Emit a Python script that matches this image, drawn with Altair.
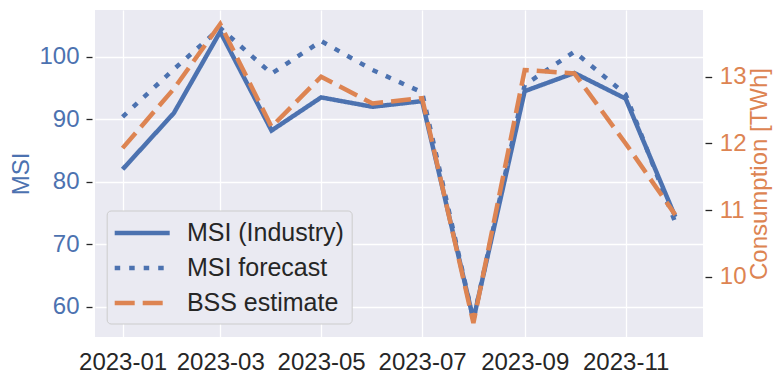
import altair as alt
import pandas as pd

months = ["2023-01-01", "2023-02-01", "2023-03-01", "2023-04-01", "2023-05-01", "2023-06-01",
          "2023-07-01", "2023-08-01", "2023-09-01", "2023-10-01", "2023-11-01", "2023-12-01"]
msi_industry = [82.0, 91.0, 104.0, 88.2, 93.5, 92.0, 92.9, 58.0, 94.5, 97.4, 93.3, 74.4]
msi_forecast = [90.4, 98.0, 104.6, 97.3, 102.5, 97.9, 94.3, 58.0, 95.5, 100.8, 94.0, 73.5]
bss_estimate = [11.93, 12.82, 13.79, 12.25, 13.0, 12.6, 12.68, 9.31, 13.1, 13.05, 12.0, 10.93]

series_names = ["MSI (Industry)", "MSI forecast", "BSS estimate"]
tick_months = ["2023-01-01", "2023-03-01", "2023-05-01", "2023-07-01", "2023-09-01", "2023-11-01"]

BLUE = "#4C72B0"
ORANGE = "#DD8452"
DARK = "#262626"
FONT = "Liberation Sans"

rows = []
for name, vals in zip(series_names, [msi_industry, msi_forecast, bss_estimate]):
    for d, v in zip(months, vals):
        rows.append({"date": d, "series": name, "value": v})
df = pd.DataFrame(rows)


def ms(s):
    return int(pd.Timestamp(s, tz="UTC").timestamp() * 1000)


x_domain = [ms("2022-12-15T08:00"), ms("2023-12-17T18:00")]
x_values = [ms(m) for m in tick_months]

x_enc = alt.X(
    "date:T",
    scale=alt.Scale(type="utc", domain=x_domain),
    axis=alt.Axis(values=x_values, labelExpr="utcFormat(datum.value, '%Y-%m')", title=None,
                  labelFontSize=24, labelColor=DARK, ticks=False, domain=False,
                  grid=True, gridColor="white", gridWidth=1.3, labelPadding=13,
                  labelFlush=False, labelOverlap=False),
)

legend = alt.Legend(
    title=None, orient="none", legendX=11.7, legendY=200.5, direction="vertical",
    symbolType="M-1.16,0H3.24", symbolSize=625, symbolStrokeWidth=4.5,
    labelFontSize=25, labelFont=FONT, labelColor=DARK, labelOffset=42.7,
    fillColor="#EAEAF2", strokeColor="#CCCCCC", cornerRadius=4, padding=7.5, rowPadding=7,
    labelLimit=400,
)
color_enc = alt.Color("series:N", scale=alt.Scale(domain=series_names, range=[BLUE, BLUE, ORANGE]),
                      legend=legend, sort=series_names)
dash_enc = alt.StrokeDash("series:N", scale=alt.Scale(domain=series_names, range=[[1, 0], [5.5, 9], [20, 8]]),
                          legend=legend, sort=series_names)

left = alt.Chart(df).transform_filter(
    alt.FieldOneOfPredicate(field="series", oneOf=["MSI (Industry)", "MSI forecast"])
).mark_line(strokeWidth=4.5, strokeCap="butt", clip=True).encode(
    x=x_enc,
    y=alt.Y("value:Q", scale=alt.Scale(domain=[55.2, 107.47], zero=False, nice=False),
            axis=alt.Axis(orient="left", values=[60, 70, 80, 90, 100], title="MSI",
                          titleColor=BLUE, titleFontSize=24, titleFontWeight="normal", titlePadding=5,
                          labelColor=BLUE, labelFontSize=24, labelPadding=7, offset=3,
                          tickSize=6, tickColor=DARK, tickWidth=1.3, domain=False,
                          grid=True, gridColor="white", gridWidth=1.3)),
    color=color_enc,
    strokeDash=dash_enc,
    detail="series:N",
)

right = alt.Chart(df).transform_filter(
    alt.FieldEqualPredicate(field="series", equal="BSS estimate")
).mark_line(strokeWidth=4.5, strokeCap="butt", clip=True).encode(
    x=x_enc,
    y=alt.Y("value:Q", scale=alt.Scale(domain=[9.1, 14.0], zero=False, nice=False),
            axis=alt.Axis(orient="right", values=[10, 11, 12, 13], title="Consumption [TWh]",
                          titleColor=ORANGE, titleFontSize=24, titleFontWeight="normal",
                          titleAngle=270, titleBaseline="top", titlePadding=2,
                          labelColor=ORANGE, labelFontSize=24, labelPadding=7.6, offset=2,
                          tickSize=6.7, tickColor=DARK, tickWidth=1.3, domain=False, grid=False)),
    color=color_enc,
    strokeDash=dash_enc,
)

chart = alt.layer(left, right).resolve_scale(y="independent").properties(
    width=608, height=327,
    autosize=alt.AutoSizeParams(type="none"),
    padding={"left": 87, "top": 2, "right": 73, "bottom": 39},
).configure(font=FONT).configure_view(fill="#EAEAF2", stroke=None)

chart.save("out.html", embed_options={"renderer": "svg", "actions": False})
